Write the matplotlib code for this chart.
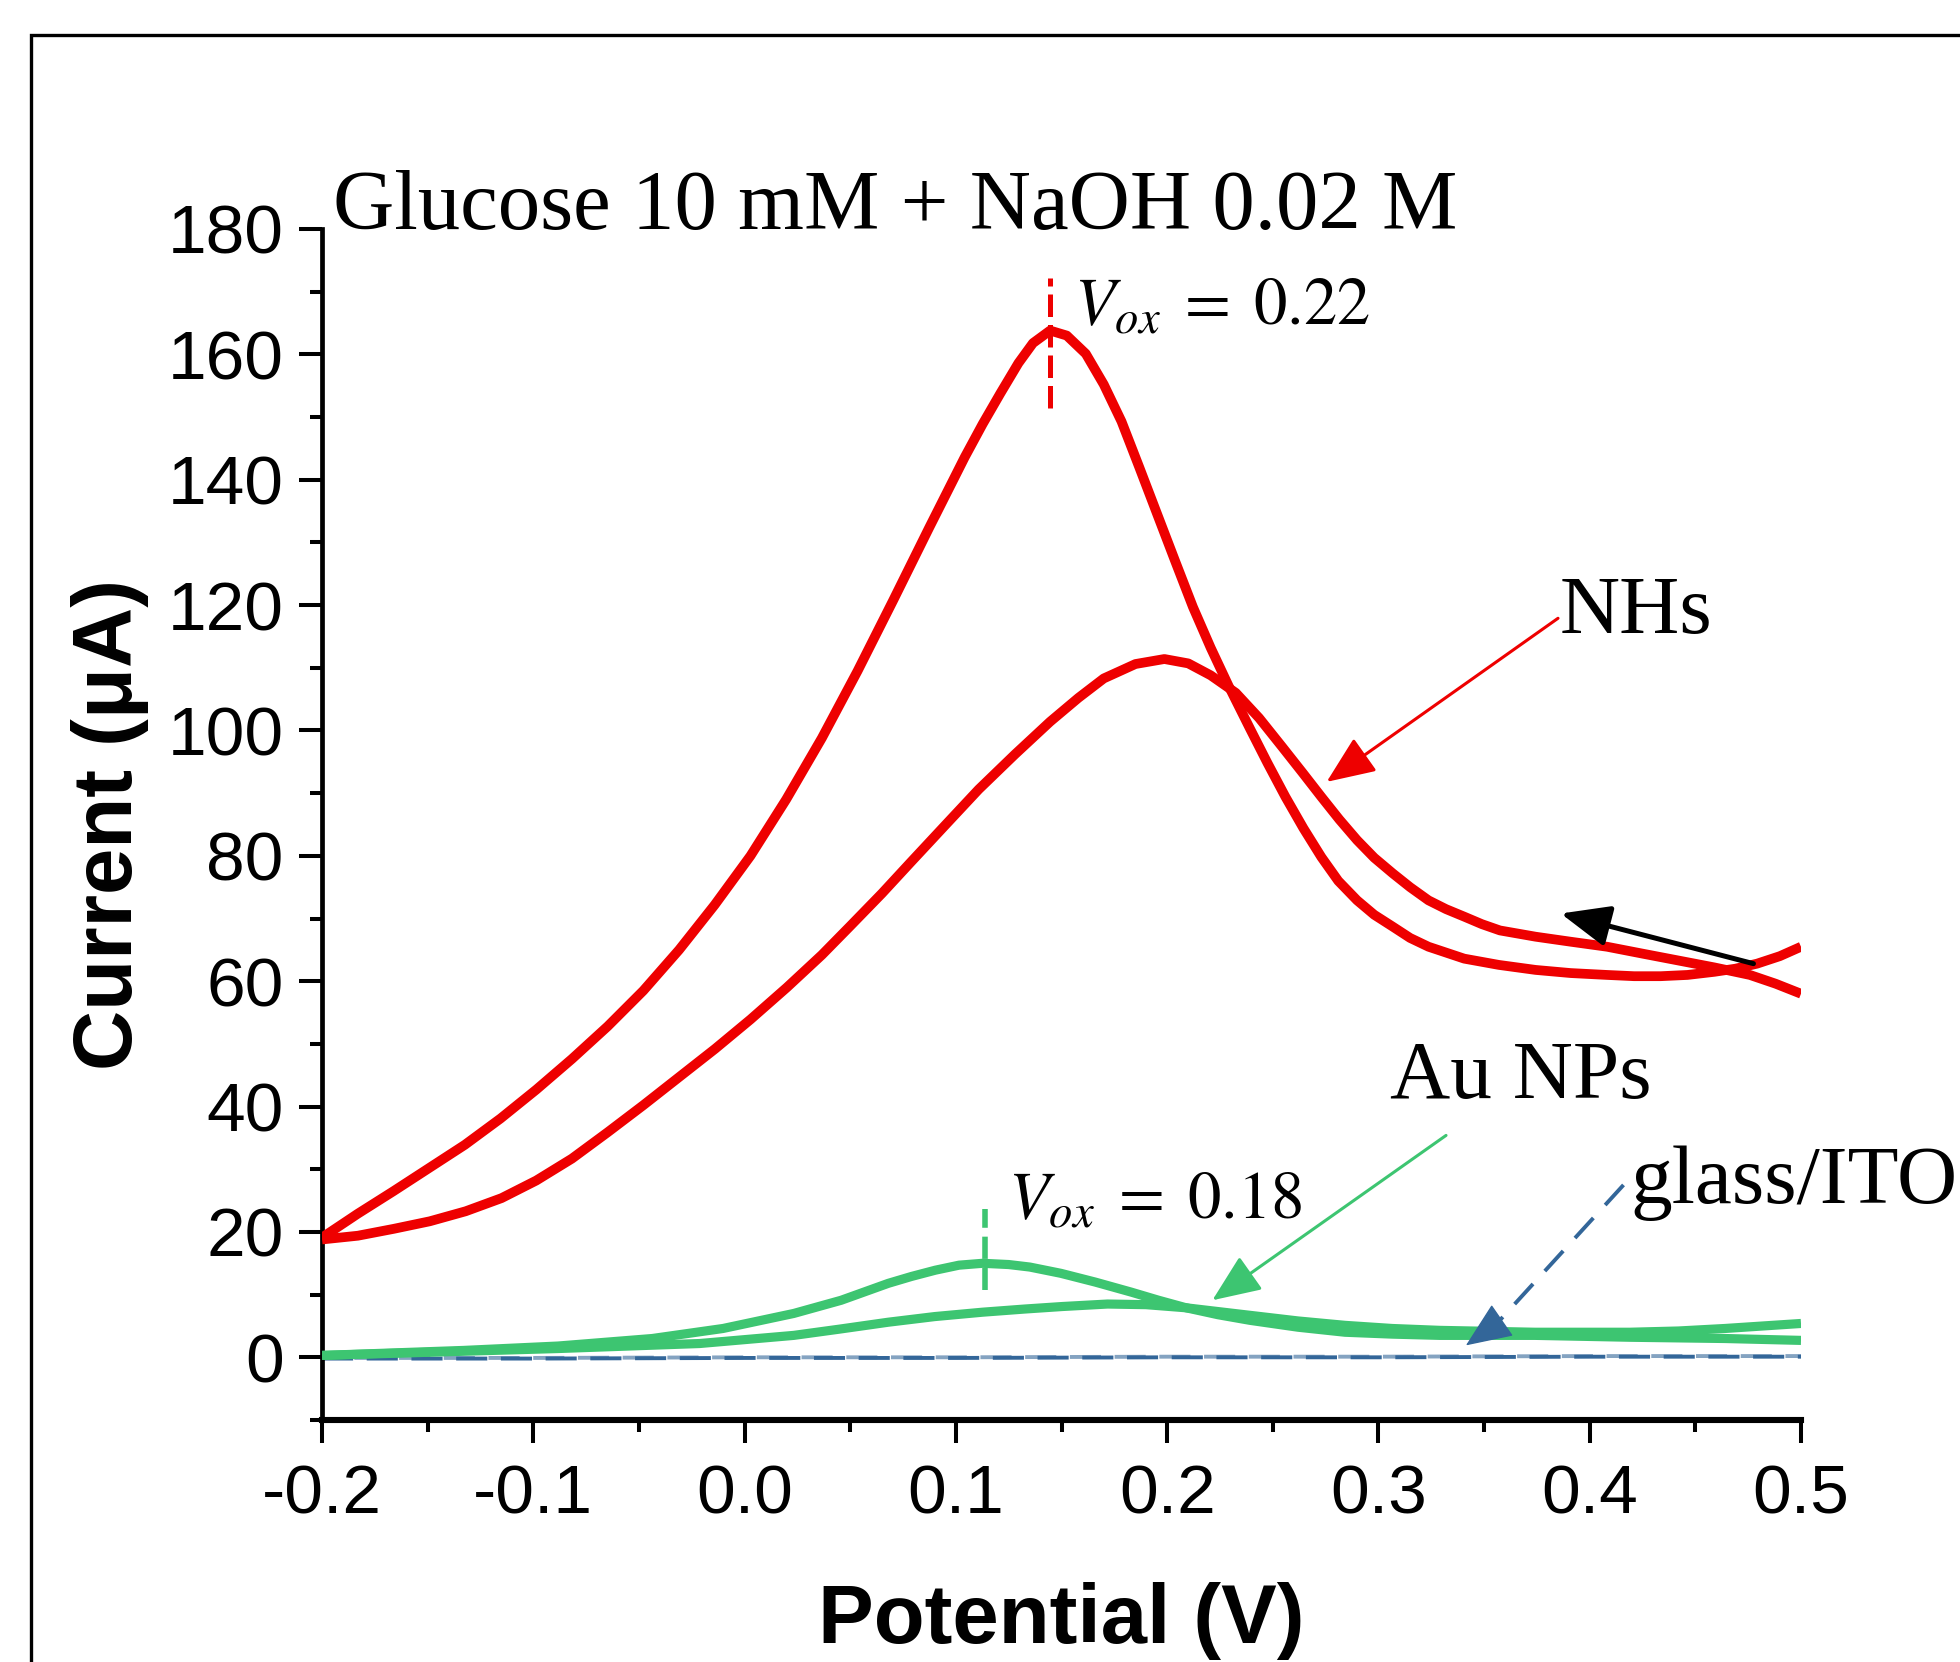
import matplotlib
matplotlib.use("Agg")
import matplotlib.pyplot as plt
from matplotlib.patches import Rectangle

plt.rcParams['axes.unicode_minus'] = False
plt.rcParams['mathtext.fontset'] = 'stix'

# ---------------- data ----------------
# NHs: forward scan (broad peak ~111 uA)
nhs_fwd_v = [-0.2, -0.183, -0.166, -0.149, -0.132, -0.115, -0.0986, -0.0817, -0.0648, -0.048,
             -0.031, -0.014, 0.0028, 0.02, 0.0366, 0.05, 0.065, 0.0787, 0.095, 0.1108,
             0.128, 0.1446, 0.158, 0.17, 0.185, 0.1987, 0.21, 0.2206, 0.2325, 0.2435,
             0.2544, 0.264, 0.273, 0.2815, 0.2899, 0.298, 0.3068, 0.315, 0.3237, 0.332,
             0.3406, 0.349, 0.3575, 0.3744, 0.391, 0.4082, 0.425, 0.442, 0.459, 0.4758, 0.488, 0.5]
nhs_fwd_i = [18.8, 19.4, 20.5, 21.7, 23.3, 25.4, 28.2, 31.7, 35.9, 40.2,
             44.7, 49.2, 53.9, 59.0, 64.2, 68.8, 74.0, 79.0, 84.9, 90.6,
             96.2, 101.4, 105.2, 108.3, 110.6, 111.4, 110.7, 108.8, 106.0, 102.0,
             97.4, 93.3, 89.4, 85.8, 82.5, 79.7, 77.2, 75.0, 72.9, 71.5,
             70.3, 69.1, 68.1, 67.1, 66.3, 65.5, 64.4, 63.3, 62.2, 61.0, 59.6, 58.0]
# NHs: reverse scan (sharp peak ~164 uA)
nhs_rev_v = [0.5, 0.49, 0.4792, 0.469, 0.459, 0.4463, 0.4336, 0.421, 0.4082, 0.391,
             0.3744, 0.357, 0.3406, 0.3237, 0.315, 0.3068, 0.298, 0.2899, 0.281, 0.273,
             0.2645, 0.256, 0.2475, 0.2392, 0.2291, 0.2206, 0.2122, 0.2037, 0.1953, 0.1868,
             0.1784, 0.17, 0.1615, 0.1525, 0.1446, 0.1365, 0.1296, 0.1211, 0.1127, 0.1042,
             0.0873, 0.0704, 0.0535, 0.0366, 0.0197, 0.0028, -0.0141, -0.031, -0.0479, -0.0648,
             -0.0817, -0.0986, -0.1155, -0.1324, -0.1493, -0.1662, -0.1831, -0.2]
nhs_rev_i = [65.5, 64.0, 62.8, 62.0, 61.5, 61.0, 60.8, 60.8, 61.0, 61.3,
             61.8, 62.6, 63.6, 65.5, 66.9, 68.7, 70.6, 72.9, 76.0, 79.8,
             84.4, 89.4, 94.8, 100.3, 107.1, 113.2, 119.7, 127.1, 134.5, 142.0,
             149.3, 155.2, 160.1, 163.0, 163.8, 161.8, 158.6, 153.8, 148.9, 143.6,
             132.3, 120.8, 109.5, 98.8, 89.0, 80.0, 72.2, 65.0, 58.5, 52.8,
             47.6, 42.7, 38.1, 33.9, 30.2, 26.5, 22.9, 19.1]

# Au NPs
au_fwd_v = [-0.2, -0.15, -0.0883, -0.0213, 0.0233, 0.045, 0.068, 0.09, 0.1127, 0.1325,
            0.1502, 0.1718, 0.19, 0.209, 0.2392, 0.262, 0.2842, 0.3065, 0.3291, 0.374,
            0.419, 0.442, 0.464, 0.482, 0.5]
au_fwd_i = [0.3, 0.8, 1.4, 2.2, 3.5, 4.5, 5.6, 6.5, 7.2, 7.7,
            8.1, 8.5, 8.4, 7.9, 6.7, 5.8, 5.1, 4.6, 4.3, 4.0,
            4.0, 4.2, 4.6, 5.0, 5.4]
au_rev_v = [0.5, 0.464, 0.419, 0.3741, 0.3291, 0.3065, 0.2842, 0.262, 0.2392, 0.224,
            0.209, 0.196, 0.183, 0.166, 0.1497, 0.135, 0.125, 0.1127, 0.1015, 0.0903,
            0.079, 0.068, 0.0457, 0.0233, -0.0102, -0.0437, -0.0883, -0.133, -0.2]
au_rev_i = [2.7, 3.0, 3.2, 3.5, 3.5, 3.7, 4.0, 4.8, 5.9, 6.8,
            7.9, 9.1, 10.4, 12.0, 13.4, 14.4, 14.8, 15.0, 14.7, 13.9,
            12.9, 11.8, 9.1, 7.0, 4.6, 3.0, 1.8, 1.1, 0.3]

# glass/ITO
ito_fwd_v = [-0.2, -0.1, 0.0, 0.1, 0.2, 0.3, 0.4, 0.5]
ito_fwd_i = [-0.2, -0.2, -0.1, -0.1, 0.0, 0.0, 0.1, 0.1]
ito_rev_v = [0.5, 0.4, 0.3, 0.2, 0.1, 0.0, -0.1, -0.2]
ito_rev_i = [0.2, 0.2, 0.1, 0.1, 0.0, 0.0, -0.1, -0.1]

xticks = [-0.2, -0.1, 0.0, 0.1, 0.2, 0.3, 0.4, 0.5]
xtick_labels = ['-0.2', '-0.1', '0.0', '0.1', '0.2', '0.3', '0.4', '0.5']
yticks = [0, 20, 40, 60, 80, 100, 120, 140, 160, 180]
ytick_labels = ['0', '20', '40', '60', '80', '100', '120', '140', '160', '180']

title_text = 'Glucose 10 mM + NaOH 0.02 M'
xlabel_text = 'Potential (V)'
ylabel_text = 'Current (\u03bcA)'

RED = '#EE0000'
GREEN = '#3DC571'
BLUE = '#336699'

W, H = 1960, 1662
def fx(px):
    return px / W
def fy(py):
    return 1 - py / H

fig = plt.figure(figsize=(W / 100, H / 100), dpi=100)
ax = fig.add_axes([fx(322), fy(1420), (1801 - 322) / W, (1420 - 229) / H])

style = dict(solid_capstyle='butt', solid_joinstyle='round', zorder=3)
ax.plot(nhs_fwd_v, nhs_fwd_i, color=RED, lw=7.0, **style)
ax.plot(nhs_rev_v, nhs_rev_i, color=RED, lw=7.0, **style)
ax.plot(au_fwd_v, au_fwd_i, color=GREEN, lw=6.6, **style)
ax.plot(au_rev_v, au_rev_i, color=GREEN, lw=6.6, **style)
ax.plot(ito_fwd_v, ito_fwd_i, color=BLUE, lw=2.8, ls=(0, (8, 3.5)), zorder=2)
ax.plot(ito_rev_v, ito_rev_i, color=BLUE, lw=2.8, ls=(4, (8, 3.5)), alpha=0.6, zorder=2)

ax.set_xlim(-0.2, 0.5)
ax.set_ylim(-10, 180)
ax.spines['top'].set_visible(False)
ax.spines['right'].set_visible(False)
ax.spines['left'].set_linewidth(3.4)
ax.spines['bottom'].set_linewidth(4.4)

ax.set_xticks(xticks)
ax.set_xticklabels(xtick_labels)
ax.set_xticks([-0.15, -0.05, 0.05, 0.15, 0.25, 0.35, 0.45], minor=True)
ax.set_yticks(yticks)
ax.set_yticklabels(ytick_labels)
ax.set_yticks([-10, 10, 30, 50, 70, 90, 110, 130, 150, 170], minor=True)
for lab in ax.get_xticklabels() + ax.get_yticklabels():
    lab.set_family('Liberation Sans')
    lab.set_fontsize(50)
ax.tick_params(axis='both', which='major', direction='out', length=16.5, width=2.9)
ax.tick_params(axis='both', which='minor', direction='out', length=8.6, width=2.9)
ax.tick_params(axis='x', which='major', pad=15)
ax.tick_params(axis='y', which='major', pad=11)

# vertical peak markers
ax.plot([0.1446, 0.1446], [151.4, 172.2], color=RED, lw=3.6, ls=(0, (4.5, 1.6)), zorder=4)
ax.plot([0.1138, 0.1138], [10.7, 23.6], color=GREEN, lw=4.0, ls=(0, (4.0, 1.6)), zorder=4)

# arrows
def arrow(tail, tip, color, lw, ls='-'):
    ax.annotate('', xy=tip, xytext=tail, xycoords='data', textcoords='data',
                arrowprops=dict(arrowstyle='-|>,head_length=1.0,head_width=0.42',
                                mutation_scale=30, color=color, lw=lw, ls=ls,
                                shrinkA=0, shrinkB=0), zorder=5)

arrow((0.385, 117.9), (0.2755, 91.8), RED, 2.2)
arrow((0.4775, 62.8), (0.3863, 70.8), 'black', 3.6)
arrow((0.332, 35.4), (0.2214, 9.1), GREEN, 2.2)
# dashed glass/ITO arrow: dashed body + solid head
ax.plot([0.416, 0.355], [27.5, 5.0], color=BLUE, lw=2.8, ls=(0, (7, 4.5)), zorder=5)
arrow((0.3530, 4.6), (0.3414, 1.9), BLUE, 1.0)

# texts
fig.text(fx(333), fy(229), title_text, family='Liberation Serif', fontsize=61, va='baseline', ha='left')
fig.text(fx(1560), fy(633), 'NHs', family='Liberation Serif', fontsize=60, va='baseline', ha='left')
fig.text(fx(1390), fy(1098), 'Au NPs', family='Liberation Serif', fontsize=60, va='baseline', ha='left')
fig.text(fx(1630), fy(1203), 'glass/ITO', family='Liberation Serif', fontsize=60, va='baseline', ha='left')
fig.text(fx(1074), fy(325), r'$V_{ox}\;=\;0.22$', fontsize=48, va='baseline', ha='left')
fig.text(fx(1008), fy(1218), r'$V_{ox}\;=\;0.18$', fontsize=48, va='baseline', ha='left')

fig.text(fx(1061), fy(1643), xlabel_text, family='Liberation Sans', fontweight='bold', fontsize=60,
         ha='center', va='baseline')
fig.text(fx(110), fy(825), ylabel_text, family='Liberation Sans', fontweight='bold', fontsize=60,
         ha='center', va='center', rotation=90)

# outer frame (cut off at right and bottom)
fig.add_artist(Rectangle((fx(31), -0.1), 1.5, fy(35) + 0.1, transform=fig.transFigure,
                         fill=False, lw=2.4, edgecolor='black', clip_on=False))

fig.savefig('out.png', dpi=100)
